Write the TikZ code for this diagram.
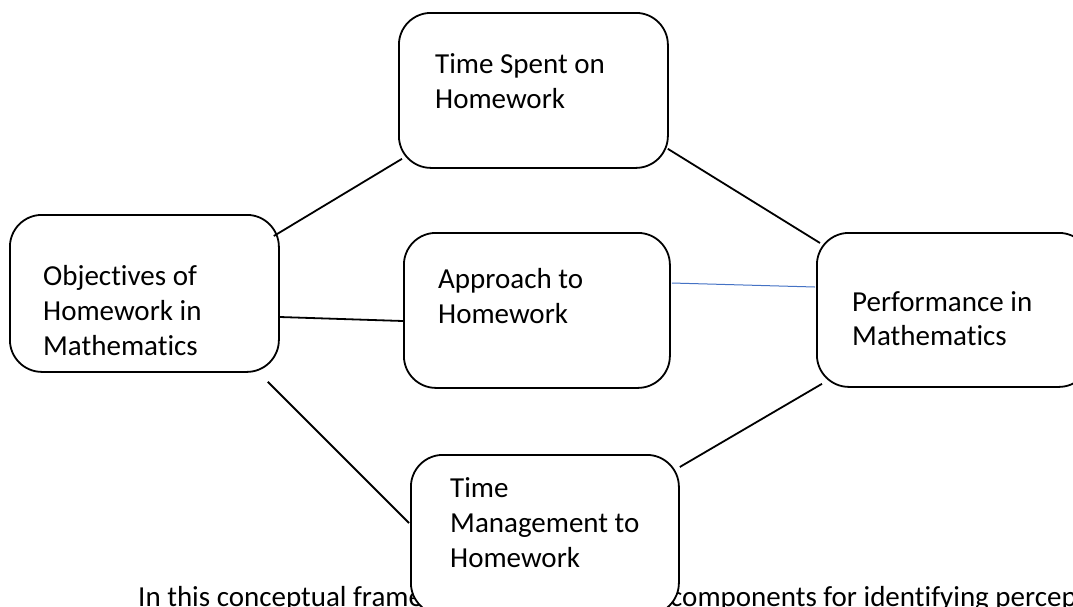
\documentclass[tikz,border=0pt]{standalone}
\usepackage{fontspec}
\setmainfont{Carlito}[Ligatures=NoCommon]
\usetikzlibrary{calc}
\definecolor{linkblue}{HTML}{4472C4}
\begin{document}
\begin{tikzpicture}[x=1pt,y=-1pt,
  conceptbox/.style={draw=black, line width=1.8pt, rounded corners=32pt,
    fill=white, inner sep=0pt, anchor=north west},
  boxtext/.style={anchor=base west, inner sep=0pt,
    font=\fontsize{29}{35}\selectfont},
  joint/.style={line width=1.8pt, black},
  bluejoint/.style={line width=1pt, linkblue}]
\useasboundingbox (0,0) rectangle (1073,606);
\clip (0,0) rectangle (1073,606);

% running text of the page, partly behind the lower box
\node[boxtext] (para1) at (138,606) {In this conceptual framework};
\node[boxtext] (para2) at (670,606) {components for identifying perceptions};

% concept boxes
\node[conceptbox, minimum width=269pt, minimum height=155pt] (time) at (398,12) {};
\node[conceptbox, minimum width=269pt, minimum height=157pt] (obj)  at (9,214) {};
\node[conceptbox, minimum width=266pt, minimum height=155pt] (appr) at (403,232) {};
\node[conceptbox, minimum width=274pt, minimum height=154pt] (perf) at (816,232) {};
\node[conceptbox, minimum width=268pt, minimum height=160pt] (mgmt) at (410,454) {};

% box captions
\node[boxtext] (time-t) at (435,73)
  {\begin{tabular}[t]{@{}l@{}}Time Spent on\\Homework\end{tabular}};
\node[boxtext] (obj-t) at (43,285)
  {\begin{tabular}[t]{@{}l@{}}Objectives of\\Homework in\\Mathematics\end{tabular}};
\node[boxtext] (appr-t) at (438,288)
  {\begin{tabular}[t]{@{}l@{}}Approach to\\Homework\end{tabular}};
\node[boxtext] (perf-t) at (852,311)
  {\begin{tabular}[t]{@{}l@{}}Performance in\\[-1pt]Mathematics\end{tabular}};
\node[boxtext] (mgmt-t) at (450,497)
  {\begin{tabular}[t]{@{}l@{}}Time\\Management to\\Homework\end{tabular}};

% connectors
\draw[joint] ($(obj.north east)+(-6,22)$) -- ($(time.south west)+(4,-10)$);
\draw[joint] ($(time.south east)+(-1,-20)$) -- ($(perf.north west)+(4,11)$);
\draw[joint] ($(obj.north east)+(0,103)$) -- ($(appr.north west)+(0,89)$);
\draw[bluejoint] ($(appr.north east)+(1,51)$) -- ($(perf.north west)+(-1,55)$);
\draw[joint] ($(obj.south east)+(-12,9)$) -- ($(mgmt.north west)+(-1,69)$);
\draw[joint] ($(mgmt.north east)+(0,13)$) -- ($(perf.south west)+(6,-4)$);
\end{tikzpicture}
\end{document}
